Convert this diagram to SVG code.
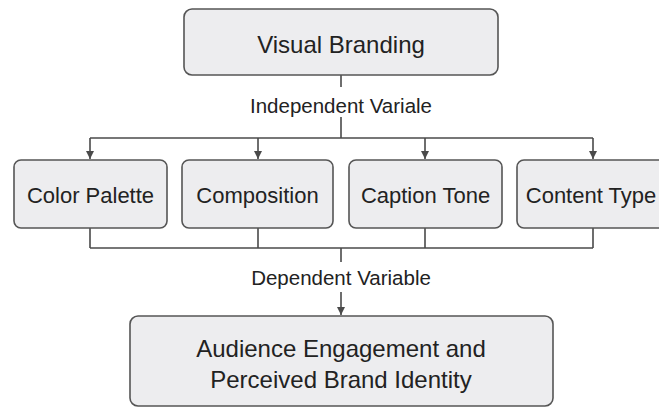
<svg xmlns="http://www.w3.org/2000/svg" width="659" height="408" viewBox="0 0 659 408">
<style>
.box{fill:#ededef;stroke:#555;stroke-width:1.6}
.t{font-family:"Liberation Sans",Arial,sans-serif;fill:#222;text-anchor:middle}
.ln{fill:none;stroke:#4a4a4a;stroke-width:1.6}
</style>
<defs>
<marker id="ah" viewBox="0 0 10 10" refX="10" refY="5" markerWidth="5" markerHeight="5" markerUnits="strokeWidth" orient="auto">
<path d="M0,0 L10,5 L0,10 Z" fill="#4a4a4a"/>
</marker>
</defs>
<rect width="659" height="408" fill="#ffffff"/>
<g id="connectors">
<path class="ln" d="M341,75 V87"/>
<path class="ln" d="M341,117 V138"/>
<path class="ln" d="M90,138 H593"/>
<path class="ln" d="M90,138 V159" marker-end="url(#ah)"/>
<path class="ln" d="M258,138 V159" marker-end="url(#ah)"/>
<path class="ln" d="M425,138 V159" marker-end="url(#ah)"/>
<path class="ln" d="M593,138 V159" marker-end="url(#ah)"/>
<path class="ln" d="M90,228 V248 M258,228 V248 M425,228 V248 M593,228 V248"/>
<path class="ln" d="M90,248 H593"/>
<path class="ln" d="M341,248 V262"/>
<path class="ln" d="M341,292 V315" marker-end="url(#ah)"/>
<text class="t" x="341" y="113" font-size="20.5">Independent Variale</text>
<text class="t" x="341" y="285" font-size="20.5">Dependent Variable</text>
</g>
<g id="visual-branding">
<rect class="box" x="184" y="9" width="314" height="66" rx="8"/>
<text class="t" x="341" y="53" font-size="24">Visual Branding</text>
</g>
<g id="color-palette">
<rect class="box" x="14" y="160" width="153" height="68" rx="7"/>
<text class="t" x="90.5" y="203" font-size="22">Color Palette</text>
</g>
<g id="composition">
<rect class="box" x="182" y="160" width="151" height="68" rx="7"/>
<text class="t" x="257.5" y="203" font-size="22">Composition</text>
</g>
<g id="caption-tone">
<rect class="box" x="349" y="160" width="153" height="68" rx="7"/>
<text class="t" x="425.5" y="203" font-size="22">Caption Tone</text>
</g>
<g id="content-type">
<rect class="box" x="517" y="160" width="152" height="68" rx="7"/>
<text class="t" x="591" y="203" font-size="22">Content Type</text>
</g>
<g id="audience">
<rect class="box" x="130" y="316" width="423" height="90" rx="8"/>
<text class="t" x="341" y="357" font-size="24">Audience Engagement and</text>
<text class="t" x="341" y="388" font-size="24">Perceived Brand Identity</text>
</g>
</svg>
